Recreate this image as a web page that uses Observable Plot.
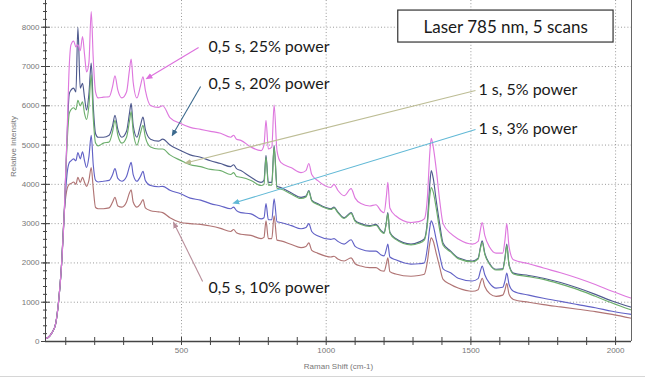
<!DOCTYPE html>
<html><head><meta charset="utf-8">
<script src="https://cdn.jsdelivr.net/npm/d3@7"></script>
<script src="https://cdn.jsdelivr.net/npm/@observablehq/plot@0.6"></script>
<style>
html,body{margin:0;padding:0;background:#fff;}
#chart{position:relative;width:645px;height:379px;overflow:hidden;}
#chart svg{display:block;}
.sep{position:absolute;left:0;top:376px;width:645px;height:1px;background:#d6d6d6;}
</style></head><body><div id="chart"></div><div class="sep"></div>
<script>
// Raman shift (cm-1)
const wavenumber = [32,40,52,65,75,85,95,105,112,118,
 127,135,142,150,158,165,172,180,188,195,203,212,
 230,250,262,270,280,294,310,320,326,333,346,358,367,375,393,
 420,435,460,497,530,566,600,635,670,680,690,705,740,775,
 785,792,800,812,820,830,843,880,913,930,940,950,970,
 1016,1027,1040,1062,1086,1100,1120,1150,1172,1190,1200,1208,1213,1220,1240,1293,1320,1339,
 1350,1358,1363,1370,1380,1392,1404,1430,1456,
 1505,1525,1533,1539,1548,1565,1587,1610,1618,1624,1632,1647,1700,1751,1810,1870,1930,1988,2055];

const power25 = [80,110,220,450,1000,1900,3300,5400,7000,7550,
 7650,7500,7550,7400,7760,7300,6860,7100,8400,7200,6350,6200,
 6220,6230,6500,6760,6400,6200,6350,6900,7190,6600,6200,6500,6740,6400,6010,
 5960,6000,5700,5550,5450,5400,5350,5300,5200,5250,5150,5120,4950,4860,
 5000,5630,4900,4950,6020,4850,4560,4420,4300,4350,4530,4250,4100,
 3920,4000,3850,3710,3890,3650,3510,3450,3480,3320,3280,3700,4050,3400,3200,3030,3050,3120,
 3700,4800,5170,4950,4400,3600,3000,2750,2610,
 2480,2550,2850,3030,2700,2400,2250,2250,2600,3000,2400,2080,1980,1870,1750,1610,1450,1280,1100];

const power20 = [80,110,220,450,1000,1900,3300,5300,6300,6400,
 6450,6350,8000,6450,6570,6200,5890,6300,7090,6000,5290,5200,
 5200,5250,5500,5760,5400,5200,5350,5800,6060,5500,5200,5500,5710,5400,5150,
 5100,5150,5000,4860,4750,4690,4600,4530,4450,4500,4400,4350,4180,4050,
 4100,4740,4050,4050,4990,3950,3920,3780,3670,3700,3840,3600,3510,
 3380,3420,3300,3150,3280,3080,3000,2950,2980,2820,2770,3050,3280,2780,2620,2480,2530,2610,
 3100,4000,4350,4150,3600,3000,2500,2300,2130,
 2050,2120,2400,2560,2250,1980,1840,1850,2150,2480,1950,1740,1680,1610,1500,1360,1200,1030,870];

const power5 = [80,110,220,450,1000,1900,3300,5100,5800,5900,
 5950,5900,6140,6000,6100,5800,5650,6000,6780,5700,5050,4980,
 5050,5080,5350,5630,5250,5050,5200,5600,5850,5350,5000,5300,5500,5200,4950,
 4900,4900,4750,4610,4500,4450,4380,4350,4250,4300,4200,4180,4100,3970,
 4000,4700,3980,3980,4950,3900,3880,3750,3640,3680,3820,3580,3490,
 3360,3400,3280,3130,3260,3060,2980,2930,2960,2800,2750,3020,3250,2760,2600,2460,2500,2580,
 3000,3700,3920,3800,3400,2850,2450,2280,2110,
 2030,2100,2370,2520,2220,1960,1820,1830,2120,2440,1930,1720,1650,1580,1460,1320,1150,980,800];

const power3 = [80,110,220,450,1000,1900,3300,4300,4550,4600,
 4650,4600,4810,4650,4830,4600,4430,4700,5250,4500,4100,4060,
 4080,4100,4250,4400,4150,4080,4200,4450,4560,4250,4080,4200,4330,4100,3970,
 3940,3950,3850,3760,3650,3600,3510,3450,3380,3420,3330,3280,3250,3120,
 3150,3510,3100,3100,3630,3050,3030,2950,2870,2900,3000,2800,2690,
 2600,2620,2550,2480,2590,2420,2350,2300,2300,2200,2180,2350,2480,2150,2080,1970,1980,2000,
 2400,2900,3070,2950,2600,2200,1850,1750,1610,
 1540,1600,1800,1920,1700,1480,1360,1380,1550,1740,1450,1280,1180,1100,1020,940,860,770,690];

const power10 = [80,110,220,450,1000,1900,3300,3900,4000,4020,
 4060,4000,4180,4050,4180,4050,3950,4100,4430,3900,3410,3380,
 3380,3400,3550,3670,3450,3420,3550,3780,3860,3550,3420,3500,3610,3400,3330,
 3300,3280,3150,3030,3000,2980,2940,2880,2800,2850,2770,2730,2700,2620,
 2650,3070,2620,2620,3200,2580,2560,2470,2390,2420,2510,2320,2250,
 2150,2170,2100,2050,2130,1980,1920,1880,1880,1800,1790,1980,2130,1780,1720,1660,1680,1710,
 2050,2500,2640,2550,2250,1900,1580,1450,1360,
 1280,1320,1500,1610,1400,1220,1150,1180,1320,1480,1200,1070,1000,940,880,820,760,690,590];

const seriesNames = ["0,5 s, 10% power","1 s, 3% power","0,5 s, 20% power","1 s, 5% power","0,5 s, 25% power"];
const seriesValues = [power10, power3, power20, power5, power25];
const seriesColors = ["#b07474","#6262c6","#4f5a8e","#6cae6c","#de78de"];

const xTickLabels = [500,1000,1500,2000];
const yTickLabels = [0,1000,2000,3000,4000,5000,6000,7000,8000];

// annotation labels (data coordinates) and their arrows
const labelText = ["0,5 s, 25% power","0,5 s, 20% power","1 s, 5% power","1 s, 3% power","0,5 s, 10% power"];
const labelX = [593,593,1526,1526,593];
const labelY = [7508,6567,6414,5421,1374];
const arrowFrom = [[559,7483],[566,6490],[1516,6389],[1516,5396],[573,1527]];
const arrowTo = [[386,6719],[472,5294],[521,4556],[687,3537],[476,2978]];
const arrowColors = ["#dd70dd","#3c6a8e","#bdbd95","#62b9d6","#b88e9a"];
const boxTitle = "Laser 785 nm, 5 scans";

const rows = seriesNames.flatMap((name, i) =>
  wavenumber.map((x, j) => ({series: name, x, y: seriesValues[i][j]})));

function tri(color, context) {
  const m = context.document.createElementNS("http://www.w3.org/2000/svg", "marker");
  m.setAttribute("viewBox", "-5 -5 10 10");
  m.setAttribute("markerWidth", "7");
  m.setAttribute("markerHeight", "7");
  m.setAttribute("orient", "auto");
  m.setAttribute("markerUnits", "userSpaceOnUse");
  m.setAttribute("fill", color);
  m.setAttribute("stroke", "none");
  const p = context.document.createElementNS("http://www.w3.org/2000/svg", "path");
  p.setAttribute("d", "M-5,-4L5,0L-5,4Z");
  m.appendChild(p);
  return m;
}

const minorX = d3.range(100, 2100, 100);
const minorY = d3.range(0, 8700, 200);
const gridStyle = {stroke: "#9a9a9a", strokeOpacity: 1, strokeDasharray: "1,2.2"};
const axisFont = "Liberation Sans, Arial, sans-serif";
const annFont = "Lato, 'Open Sans', sans-serif";

const chart = Plot.plot({
  width: 645, height: 379,
  marginLeft: 45, marginRight: 14, marginTop: 0, marginBottom: 38,
  x: {domain: [30, 2055]},
  y: {domain: [0, 8680]},
  style: {background: "#fff", overflow: "visible"},
  marks: [
    Plot.gridY(yTickLabels.slice(1), gridStyle),
    Plot.gridX(xTickLabels, gridStyle),
    ...seriesNames.map((name, i) =>
      Plot.line(rows.filter(r => r.series === name), {x: "x", y: "y", stroke: seriesColors[i], strokeWidth: 1.15, curve: "monotone-x"})),
    Plot.ruleX([30], {stroke: "#444", strokeWidth: 1}),
    Plot.ruleX([2055], {stroke: "#666", strokeWidth: 1}),
    Plot.ruleY([0], {stroke: "#444", strokeWidth: 1.3}),
    Plot.axisY({ticks: yTickLabels, tickFormat: d3.format("d"), tickSize: 4, tickPadding: 2, fontSize: 8, fill: "#777", stroke: "#444", fontFamily: axisFont, label: null}),
    Plot.axisY({ticks: yTickLabels, tickSize: 5, dx: 5, text: null, stroke: "#444", label: null}),
    Plot.axisY({ticks: minorY, tickSize: 2, text: null, stroke: "#444", label: null}),
    Plot.axisY({ticks: minorY, tickSize: 2, dx: 2, text: null, stroke: "#444", label: null}),
    Plot.axisX({ticks: xTickLabels, tickFormat: d3.format("d"), tickSize: 0, tickPadding: 6, fontSize: 8, fill: "#777", fontFamily: axisFont, label: null}),
    Plot.axisX({ticks: minorX, tickSize: 4, text: null, stroke: "#444", label: null}),
    Plot.axisX({ticks: minorX, tickSize: 4, dy: -4, text: null, stroke: "#444", label: null}),
    Plot.text(["Raman Shift (cm-1)"], {frameAnchor: "bottom", dy: 27, fontSize: 8, fill: "#777", fontFamily: axisFont}),
    Plot.text(["Relative Intensity"], {frameAnchor: "left", dx: -32, dy: 6, rotate: -90, fontSize: 8, fill: "#777", fontFamily: axisFont}),
    ...arrowFrom.map((f, i) =>
      Plot.link([0], {x1: () => f[0], y1: () => f[1], x2: () => arrowTo[i][0], y2: () => arrowTo[i][1], stroke: arrowColors[i], strokeWidth: 1.1, markerEnd: tri})),
    Plot.text(labelText, {x: (d, i) => labelX[i], y: (d, i) => labelY[i], text: d => d, textAnchor: "start", fontSize: 16, fill: "#1a1a1a", fontFamily: annFont}),
    Plot.rect([0], {x1: () => 1249, x2: () => 1993, y1: () => 7610, y2: () => 8424, fill: "#fff", stroke: "#333", strokeWidth: 1.2}),
    Plot.text([boxTitle], {x: () => 1620, y: () => 7992, fontSize: 17, fill: "#1a1a1a", fontFamily: annFont})
  ]
});
document.getElementById("chart").appendChild(chart);
</script>
</body></html>
